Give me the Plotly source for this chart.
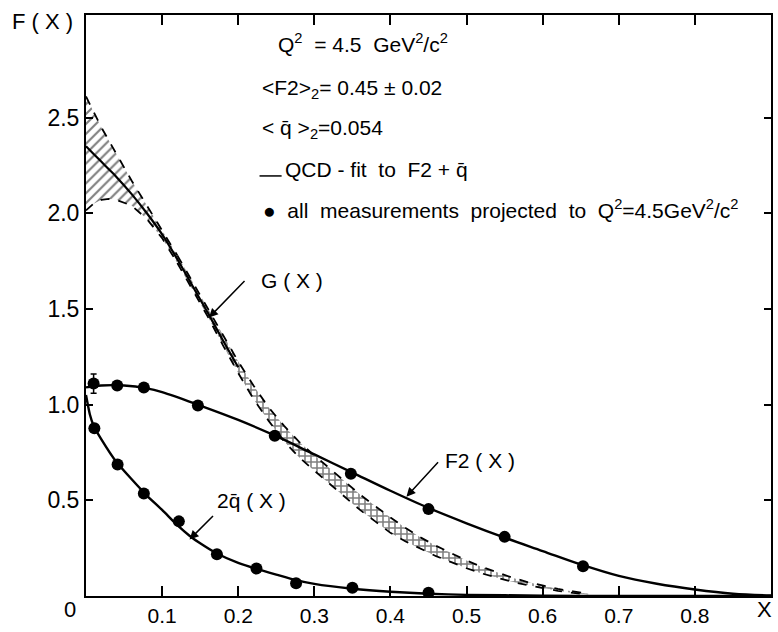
import plotly.graph_objects as go

# ---------------- data ----------------
# G(x) band: grid, central fit, upper and lower error edges
g_x = [0, 0.01, 0.02, 0.03, 0.04, 0.06, 0.08, 0.1, 0.12, 0.14, 0.16, 0.18, 0.2, 0.22,
       0.24, 0.26, 0.28, 0.3, 0.32, 0.34, 0.36, 0.38, 0.4, 0.42, 0.44, 0.46, 0.48, 0.5,
       0.52, 0.54, 0.56, 0.58, 0.6, 0.62, 0.64, 0.66]
g_mid = [2.35, 2.31, 2.27, 2.23, 2.19, 2.10, 2.00, 1.89, 1.76, 1.62, 1.48, 1.335, 1.195,
         1.065, 0.95, 0.85, 0.765, 0.695, 0.625, 0.555, 0.49, 0.43, 0.37, 0.32, 0.275,
         0.235, 0.2, 0.165, 0.135, 0.108, 0.085, 0.065, 0.047, 0.032, 0.02, 0.01]
g_up = [2.61, 2.53, 2.45, 2.38, 2.31, 2.17, 2.04, 1.91, 1.78, 1.64, 1.50, 1.36, 1.225,
        1.10, 0.985, 0.89, 0.805, 0.735, 0.665, 0.595, 0.53, 0.47, 0.41, 0.355, 0.305,
        0.262, 0.223, 0.185, 0.152, 0.122, 0.096, 0.073, 0.053, 0.037, 0.024, 0.012]
g_lo = [2.015, 2.05, 2.07, 2.075, 2.07, 2.04, 1.97, 1.87, 1.74, 1.60, 1.46, 1.31, 1.165,
        1.03, 0.915, 0.81, 0.725, 0.655, 0.585, 0.515, 0.45, 0.39, 0.33, 0.285, 0.245,
        0.208, 0.177, 0.145, 0.118, 0.094, 0.074, 0.057, 0.041, 0.027, 0.016, 0.008]

# F2(x) QCD fit curve
f2_x = [0, 0.02, 0.05, 0.08, 0.1, 0.15, 0.2, 0.25, 0.3, 0.35, 0.4, 0.45, 0.5, 0.55,
        0.6, 0.65, 0.7, 0.75, 0.8, 0.85, 0.9]
f2_y = [1.09, 1.10, 1.10, 1.085, 1.065, 0.995, 0.92, 0.835, 0.74, 0.645, 0.55, 0.46,
        0.38, 0.305, 0.235, 0.165, 0.105, 0.064, 0.034, 0.012, 0.003]
# F2 measurements
f2_px = [0.01, 0.041, 0.076, 0.147, 0.248, 0.348, 0.45, 0.55, 0.653]
f2_py = [1.11, 1.10, 1.09, 0.996, 0.837, 0.639, 0.454, 0.309, 0.155]
f2_err = [0.05, 0, 0, 0, 0, 0, 0, 0, 0]

# 2 q-bar(x) fit curve
q_x = [0, 0.005, 0.01, 0.02, 0.04, 0.06, 0.08, 0.1, 0.12, 0.136, 0.15, 0.172, 0.2,
       0.224, 0.25, 0.276, 0.3, 0.35, 0.4, 0.45, 0.5, 0.6, 0.7, 0.9]
q_y = [1.05, 0.95, 0.89, 0.82, 0.70, 0.61, 0.525, 0.45, 0.37, 0.315, 0.275, 0.222,
       0.173, 0.142, 0.112, 0.083, 0.063, 0.038, 0.022, 0.012, 0.006, 0.002, 0.0, 0.0]
# 2 q-bar measurements
q_px = [0.011, 0.0415, 0.076, 0.122, 0.172, 0.224, 0.276, 0.35, 0.45]
q_py = [0.876, 0.687, 0.536, 0.39, 0.218, 0.144, 0.067, 0.043, 0.017]

x_ticks = [0.1, 0.2, 0.3, 0.4, 0.5, 0.6, 0.7, 0.8]
x_tick_text = ["0.1", "0.2", "0.3", "0.4", "0.5", "0.6", "0.7", "0.8"]
y_ticks = [0.5, 1.0, 1.5, 2.0, 2.5]
y_tick_text = ["0.5", "1.0", "1.5", "2.0", "2.5"]

FONT = "Liberation Sans"
INK = "black"

fig = go.Figure()

split = 9  # index of x=0.14
# band part 1 (diagonal hatching)
fig.add_trace(go.Scatter(x=g_x[:split], y=g_lo[:split], mode="lines",
                         line=dict(color=INK, width=1.8, dash="dash"), showlegend=False))
fig.add_trace(go.Scatter(x=g_x[:split], y=g_up[:split], mode="lines", fill="tonexty",
                         fillcolor="rgba(0,0,0,0)",
                         fillpattern=dict(shape="/", fgcolor=INK, bgcolor="white", size=7, solidity=0.3),
                         line=dict(color=INK, width=1.8, dash="dash"), showlegend=False))
# band part 2 (cross hatching)
fig.add_trace(go.Scatter(x=g_x[split - 1:], y=g_lo[split - 1:], mode="lines",
                         line=dict(color=INK, width=1.8, dash="dash"), showlegend=False))
fig.add_trace(go.Scatter(x=g_x[split - 1:], y=g_up[split - 1:], mode="lines", fill="tonexty",
                         fillcolor="rgba(0,0,0,0)",
                         fillpattern=dict(shape="+", fgcolor=INK, bgcolor="white", size=6, solidity=0.45),
                         line=dict(color=INK, width=1.8, dash="dash"), showlegend=False))
# G central line
n_mid = 13
fig.add_trace(go.Scatter(x=g_x[:n_mid], y=g_mid[:n_mid], mode="lines", line_shape="spline",
                         line=dict(color=INK, width=2.2), showlegend=False))

# F2 fit and points
fig.add_trace(go.Scatter(x=f2_x, y=f2_y, mode="lines", line_shape="spline",
                         line=dict(color=INK, width=2.4), showlegend=False))
fig.add_trace(go.Scatter(x=f2_px, y=f2_py, mode="markers",
                         marker=dict(color=INK, size=12),
                         error_y=dict(type="data", array=f2_err, color=INK, thickness=1.5, width=3),
                         showlegend=False))
# 2qbar fit and points
fig.add_trace(go.Scatter(x=q_x, y=q_y, mode="lines", line_shape="spline",
                         line=dict(color=INK, width=2.4, smoothing=0.6), showlegend=False))
fig.add_trace(go.Scatter(x=q_px, y=q_py, mode="markers",
                         marker=dict(color=INK, size=12), showlegend=False))

ann = []
tf = dict(family=FONT, size=21, color=INK)
# text block
ann.append(dict(x=0.25, y=2.89, xref="x", yref="y", xanchor="left", yanchor="middle", showarrow=False,
                text="Q<sup>2</sup>  = 4.5  GeV<sup>2</sup>/c<sup>2</sup>", font=tf))
ann.append(dict(x=0.228, y=2.65, xref="x", yref="y", xanchor="left", yanchor="middle", showarrow=False,
                text="&lt;F2&gt;<sub>2</sub>= 0.45 ± 0.02", font=tf))
ann.append(dict(x=0.228, y=2.44, xref="x", yref="y", xanchor="left", yanchor="middle", showarrow=False,
                text="&lt; q̄ &gt;<sub>2</sub>=0.054", font=tf))
ann.append(dict(x=0.259, y=2.23, xref="x", yref="y", xanchor="left", yanchor="middle", showarrow=False,
                text="QCD - fit  to  F2 + q̄", font=tf))
ann.append(dict(x=0.23, y=2.02, xref="x", yref="y", xanchor="left", yanchor="middle", showarrow=False,
                text="●  all  measurements  projected  to  Q<sup>2</sup>=4.5GeV<sup>2</sup>/c<sup>2</sup>",
                font=tf))
# curve labels
ann.append(dict(x=0.27, y=1.65, xref="x", yref="y", showarrow=False, text="G ( X )", font=tf))
ann.append(dict(x=0.5177, y=0.706, xref="x", yref="y", showarrow=False, text="F2 ( X )", font=tf))
ann.append(dict(x=0.217, y=0.50, xref="x", yref="y", showarrow=False, text="2q̄ ( X )", font=tf))
# arrows
for (tx, ty, axp, ayp) in [(0.1616, 1.455, 37, -38), (0.421, 0.519, 33, -36), (0.136, 0.295, 25, -25)]:
    ann.append(dict(x=tx, y=ty, xref="x", yref="y", ax=axp, ay=ayp, text="", showarrow=True,
                    arrowhead=2, arrowsize=1.2, arrowwidth=1.5, arrowcolor=INK))
# axis corner labels
cf = dict(family=FONT, size=22, color=INK)
ann.append(dict(x=-0.016, y=0.988, xref="paper", yref="paper", xanchor="right", yanchor="middle",
                showarrow=False, text="F ( X )", font=cf))
ann.append(dict(x=-0.0233, y=-0.024, xref="paper", yref="paper", xanchor="center", yanchor="middle",
                showarrow=False, text="0", font=cf))
ann.append(dict(x=0.991, y=-0.024, xref="paper", yref="paper", xanchor="center", yanchor="middle",
                showarrow=False, text="X", font=cf))

fig.update_layout(
    width=778, height=632,
    margin=dict(l=86, r=5, t=15, b=28),
    paper_bgcolor="white", plot_bgcolor="white",
    annotations=ann,
    shapes=[dict(type="line", xref="x", yref="y", x0=0.228, x1=0.257, y0=2.195, y1=2.195,
                 line=dict(color=INK, width=1.5))],
    xaxis=dict(range=[0, 0.9], tickvals=x_ticks, ticktext=x_tick_text, ticks="inside", ticklen=10,
               tickwidth=1.5, tickcolor=INK, showgrid=False, zeroline=False, showline=True,
               linecolor=INK, linewidth=2, mirror="allticks",
               tickfont=dict(family=FONT, size=21, color=INK)),
    yaxis=dict(range=[0, 3.036], tickvals=y_ticks, ticktext=y_tick_text, ticks="inside", ticklen=7,
               tickwidth=1.5, tickcolor=INK, showgrid=False, zeroline=False, showline=True,
               linecolor=INK, linewidth=2, mirror="allticks",
               tickfont=dict(family=FONT, size=23, color=INK)),
)

fig.write_html("out.html")
